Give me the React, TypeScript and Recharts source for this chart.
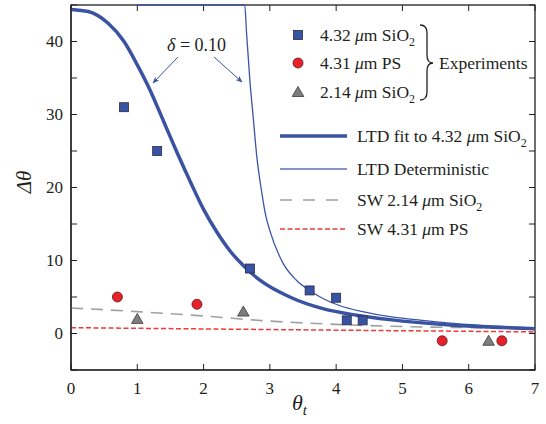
import React from 'react';
import { ComposedChart, Line, Scatter, XAxis, YAxis } from 'recharts';

const W = 546;
const H = 424;
const FONT = '"Liberation Serif", "DejaVu Serif", serif';
const INK = '#231f20';
const BLUE = '#3a52a2';

// plot box (must match chart margins + axis sizes below)
const PL = 71;
const PT = 5;
const PR = 535;
const PB = 370;

// experiments
const sio2_432 = [
  { x: 0.8, y: 31 }, { x: 1.3, y: 25 }, { x: 2.7, y: 8.9 }, { x: 3.6, y: 5.9 },
  { x: 4.0, y: 4.9 }, { x: 4.16, y: 1.8 }, { x: 4.4, y: 1.8 },
];
const ps_431 = [
  { x: 0.7, y: 5 }, { x: 1.9, y: 4 }, { x: 5.6, y: -1 }, { x: 6.5, y: -1 },
];
const sio2_214 = [
  { x: 1.0, y: 2 }, { x: 2.6, y: 3 }, { x: 6.3, y: -1 },
];

// models
const ltdFit = [
  { x: 0, y: 44.4 }, { x: 0.26, y: 44.1 }, { x: 0.56, y: 42.5 }, { x: 0.8, y: 40.0 },
  { x: 1.0, y: 36.8 }, { x: 1.2, y: 33.2 }, { x: 1.4, y: 29.0 }, { x: 1.6, y: 24.8 },
  { x: 1.8, y: 20.8 }, { x: 2.0, y: 17.0 }, { x: 2.2, y: 13.9 }, { x: 2.4, y: 11.3 },
  { x: 2.6, y: 9.3 }, { x: 2.85, y: 7.3 }, { x: 3.3, y: 5.0 }, { x: 3.8, y: 3.4 },
  { x: 4.31, y: 2.5 }, { x: 4.81, y: 1.9 }, { x: 5.67, y: 1.2 }, { x: 6.3, y: 0.9 },
  { x: 7, y: 0.65 },
];
const ltdDet = [
  { x: 1.0, y: 45 }, { x: 2.62, y: 45 }, { x: 2.65, y: 41 }, { x: 2.7, y: 34.5 },
  { x: 2.75, y: 29.5 }, { x: 2.8, y: 24.5 }, { x: 2.88, y: 19.2 }, { x: 2.93, y: 16.5 },
  { x: 3.0, y: 14.1 }, { x: 3.15, y: 10.5 }, { x: 3.2, y: 9.6 }, { x: 3.4, y: 7.3 },
  { x: 3.6, y: 5.9 }, { x: 3.8, y: 4.8 }, { x: 4.06, y: 3.8 }, { x: 4.4, y: 3.0 },
  { x: 4.81, y: 2.3 }, { x: 5.2, y: 1.9 }, { x: 5.67, y: 1.45 }, { x: 6.2, y: 1.1 },
  { x: 7, y: 0.75 },
];
const sw214 = [
  { x: 0, y: 3.5 }, { x: 1, y: 3.0 }, { x: 2, y: 2.4 }, { x: 3, y: 1.7 },
  { x: 4, y: 1.25 }, { x: 5, y: 0.95 }, { x: 6, y: 0.8 }, { x: 7, y: 0.6 },
];
const sw431 = [
  { x: 0, y: 0.8 }, { x: 3.5, y: 0.5 }, { x: 7, y: 0.22 },
];

const xTicks = [0, 1, 2, 3, 4, 5, 6, 7];
const yTicks = [-5, 0, 5, 10, 15, 20, 25, 30, 35, 40, 45];

const Square = (p: any) => (
  <rect x={p.cx - 4.5} y={p.cy - 4.5} width={9} height={9} fill="#3953a4" stroke="#2a2a40" strokeWidth={0.8} />
);
const Circle = (p: any) => (
  <circle cx={p.cx} cy={p.cy} r={5} fill="#e8202a" stroke="#5a1a1a" strokeWidth={0.8} />
);
const Tri = (p: any) => (
  <polygon
    points={`${p.cx},${p.cy - 5.5} ${p.cx + 5.8},${p.cy + 4.5} ${p.cx - 5.8},${p.cy + 4.5}`}
    fill="#7d7d7d" stroke="#3a3a3a" strokeWidth={0.8}
  />
);

const LeftTick = (p: any) => {
  const v = p.payload.value;
  return (
    <g>
      <line x1={p.x} x2={p.x + 6} y1={p.y} y2={p.y} stroke={INK} strokeWidth={1} />
      {v % 10 === 0 && v >= 0 && v <= 40 && (
        <text x={p.x - 8} y={p.y} dy="0.35em" textAnchor="end" fontFamily={FONT} fontSize={17} fill={INK}>
          {v}
        </text>
      )}
    </g>
  );
};
const BottomTick = (p: any) => (
  <g>
    <line x1={p.x} x2={p.x} y1={p.y} y2={p.y - 6} stroke={INK} strokeWidth={1} />
    <text x={p.x} y={p.y + 24} textAnchor="middle" fontFamily={FONT} fontSize={17} fill={INK}>
      {p.payload.value}
    </text>
  </g>
);

// frame (top/right edges with inward ticks), drawn under the chart
const Frame = () => {
  const sx = (v: number) => PL + ((PR - PL) * v) / 7;
  const sy = (v: number) => PB - ((PB - PT) * (v + 5)) / 50;
  return (
    <svg width={W} height={H} style={{ position: 'absolute', left: 0, top: 0 }}>
      <rect x={PL} y={PT} width={PR - PL} height={PB - PT} fill="none" stroke={INK} strokeWidth={1.3} />
      {xTicks.map((t) => (
        <line key={'t' + t} x1={sx(t)} x2={sx(t)} y1={PT} y2={PT + 6} stroke={INK} strokeWidth={1} />
      ))}
      {yTicks.map((t) => (
        <line key={'r' + t} x1={PR} x2={PR - 6} y1={sy(t)} y2={sy(t)} stroke={INK} strokeWidth={1} />
      ))}
    </svg>
  );
};

const Sub = ({ children }: { children: React.ReactNode }) => (
  <tspan dy={5} fontSize={12}>{children}</tspan>
);
const Mu = () => <tspan fontStyle="italic">μ</tspan>;

const Overlay = () => (
  <svg width={W} height={H} style={{ position: 'absolute', left: 0, top: 0, pointerEvents: 'none' }}>
    <defs>
      <marker id="ah" viewBox="0 0 10 10" refX="9" refY="5" markerWidth="7" markerHeight="7" orient="auto-start-reverse">
        <path d="M0,1 L10,5 L0,9 L3,5 z" fill={BLUE} />
      </marker>
    </defs>
    <g fontFamily={FONT} fill={INK} fontSize={17.5}>
      {/* annotation */}
      <text x={167} y={51} fontSize={18}>
        <tspan fontStyle="italic">δ</tspan> = 0.10
      </text>
      <line x1={178} y1={57} x2={153} y2={83} stroke={BLUE} strokeWidth={1} markerEnd="url(#ah)" />
      <line x1={214} y1={57} x2={242} y2={82} stroke={BLUE} strokeWidth={1} markerEnd="url(#ah)" />

      {/* experiment legend */}
      <Square cx={298} cy={35} />
      <text x={320} y={41}>4.32 <Mu />m SiO<Sub>2</Sub></text>
      <Circle cx={298} cy={63} />
      <text x={320} y={69}>4.31 <Mu />m PS</text>
      <Tri cx={298} cy={92} />
      <text x={320} y={98}>2.14 <Mu />m SiO<Sub>2</Sub></text>
      <path
        d="M420,25 Q427,25 427,33 L427,55 Q427,63 433,63 Q427,63 427,71 L427,92 Q427,100 420,100"
        fill="none" stroke={INK} strokeWidth={1.3}
      />
      <text x={439} y={69}>Experiments</text>

      {/* model legend */}
      <line x1={280} x2={347} y1={136} y2={136} stroke={BLUE} strokeWidth={3.5} />
      <text x={357} y={142}>LTD fit to 4.32 <Mu />m SiO<Sub>2</Sub></text>
      <line x1={280} x2={347} y1={169} y2={169} stroke="#8991c8" strokeWidth={2} />
      <text x={357} y={175}>LTD Deterministic</text>
      <line x1={280} x2={347} y1={200} y2={200} stroke="#a0a0a0" strokeWidth={1.6} strokeDasharray="12 11" />
      <text x={357} y={206}>SW 2.14 <Mu />m SiO<Sub>2</Sub></text>
      <line x1={280} x2={347} y1={229} y2={229} stroke="#ee3a3a" strokeWidth={1.5} strokeDasharray="5 2.5" />
      <text x={357} y={235}>SW 4.31 <Mu />m PS</text>

      {/* axis titles */}
      <text x={0} y={0} transform="translate(31,182) rotate(-90)" textAnchor="middle" fontStyle="italic" fontSize={21}>
        Δθ
      </text>
      <text x={292} y={410} fontStyle="italic" fontSize={22}>
        θ<tspan dy={5} fontSize={15}>t</tspan>
      </text>
    </g>
  </svg>
);

export default function App() {
  return (
    <div style={{ position: 'absolute', left: 0, top: 0, width: W, height: H, background: '#fff' }}>
      <Frame />
      <div style={{ position: 'absolute', left: 0, top: 0 }}>
        <ComposedChart width={W} height={H} margin={{ top: PT, right: W - PR, bottom: 0, left: 0 }}>
          <XAxis
            dataKey="x" type="number" domain={[0, 7]} ticks={xTicks}
            height={H - PB} tickSize={0} tickMargin={0} tickLine={false} tick={<BottomTick />}
            axisLine={{ stroke: INK, strokeWidth: 1.2 }} interval={0}
          />
          <YAxis
            type="number" domain={[-5, 45]} ticks={yTicks}
            width={PL} tickSize={0} tickMargin={0} tickLine={false} tick={<LeftTick />}
            axisLine={{ stroke: INK, strokeWidth: 1.2 }} interval={0}
          />
          <Line data={sw431} dataKey="y" type="monotone" stroke="#ee3a3a" strokeWidth={1.5}
            strokeDasharray="5 2.5" dot={false} isAnimationActive={false} />
          <Line data={sw214} dataKey="y" type="monotone" stroke="#a0a0a0" strokeWidth={1.6}
            strokeDasharray="12 8" dot={false} isAnimationActive={false} />
          <Line data={ltdDet} dataKey="y" type="monotone" stroke="#3d55a8"
            strokeWidth={1.3} dot={false} isAnimationActive={false} />
          <Line data={ltdFit} dataKey="y" type="monotone" stroke={BLUE} strokeWidth={3.5}
            dot={false} isAnimationActive={false} />
          <Scatter data={sio2_432} dataKey="y" shape={Square} isAnimationActive={false} />
          <Scatter data={ps_431} dataKey="y" shape={Circle} isAnimationActive={false} />
          <Scatter data={sio2_214} dataKey="y" shape={Tri} isAnimationActive={false} />
        </ComposedChart>
      </div>
      <Overlay />
    </div>
  );
}
